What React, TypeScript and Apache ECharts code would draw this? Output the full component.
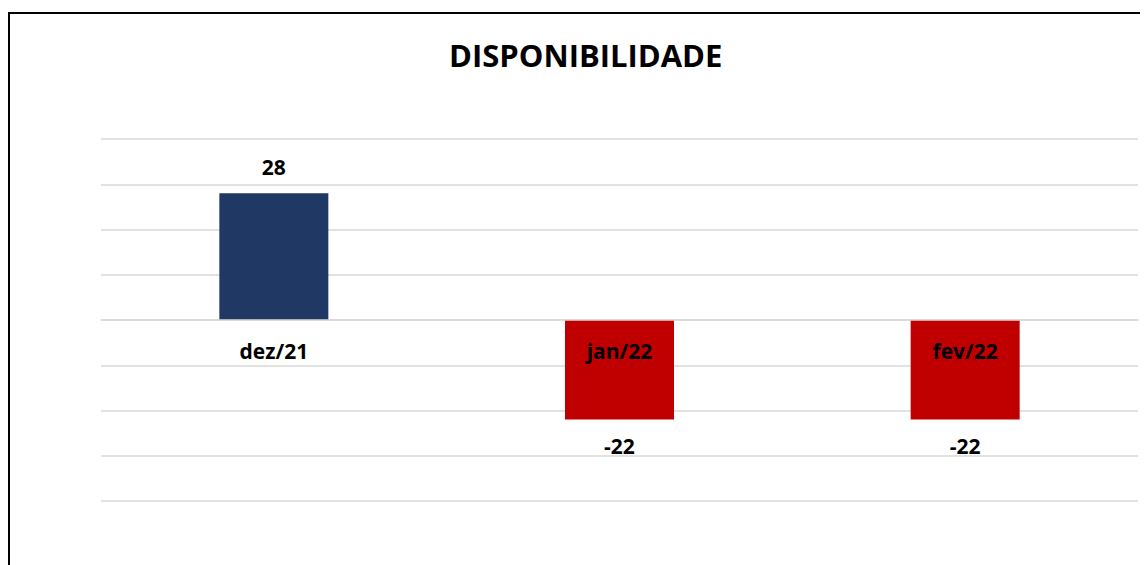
import React, { useEffect, useRef } from "react";
import * as echarts from "echarts";

const categories = ["dez/21", "jan/22", "fev/22"];
const values = [28, -22, -22];
const positiveColor = "#203864";
const negativeColor = "#C00000";
const yMin = -40;
const yMax = 40;
const yInterval = 10;

export default function App() {
  const ref = useRef<HTMLDivElement>(null);
  useEffect(() => {
    document.body.style.overflow = "hidden";
    const chart = echarts.init(ref.current!, null, { renderer: "svg" });
    const font = "'Open Sans', sans-serif";
    const gridHeight = 362;
    const zeroOffset = -gridHeight * (0 - yMin) / (yMax - yMin);
    chart.setOption({
      animation: false,
      backgroundColor: "#ffffff",
      title: {
        text: "DISPONIBILIDADE",
        left: 436,
        top: 26,
        textStyle: { fontFamily: font, fontSize: 31, fontWeight: "bold", color: "#000" },
      },
      graphic: [
        {
          type: "rect",
          shape: { x: 1, y: 5, width: 2000, height: 1000 },
          style: { fill: "none", stroke: "#000", lineWidth: 2 },
          z: 100,
        },
      ],
      grid: { left: 93, top: 131, width: 1037, height: gridHeight, containLabel: false },
      xAxis: {
        type: "category",
        data: categories,
        z: 10,
        offset: zeroOffset,
        axisLine: { show: true, onZero: false, lineStyle: { color: "#d9d9d9", width: 1.5 } },
        axisTick: { show: false },
        axisLabel: {
          margin: 20,
          fontFamily: font,
          fontSize: 21,
          fontWeight: "bold",
          color: "#000",
        },
        splitLine: { show: false },
      },
      yAxis: {
        type: "value",
        min: yMin,
        max: yMax,
        interval: yInterval,
        axisLabel: { show: false },
        axisLine: { show: false },
        axisTick: { show: false },
        splitLine: { lineStyle: { color: "#d9d9d9", width: 1.5 } },
      },
      series: [
        {
          type: "bar",
          barWidth: 109,
          data: values.map((v) => ({
            value: v,
            itemStyle: { color: v >= 0 ? positiveColor : negativeColor },
            label: { position: v >= 0 ? "top" : "bottom" },
          })),
          label: {
            show: true,
            distance: 16,
            fontFamily: font,
            fontSize: 21,
            fontWeight: "bold",
            color: "#000",
          },
        },
      ],
    });
    return () => chart.dispose();
  }, []);
  return <div ref={ref} style={{ width: 1140, height: 557 }} />;
}
